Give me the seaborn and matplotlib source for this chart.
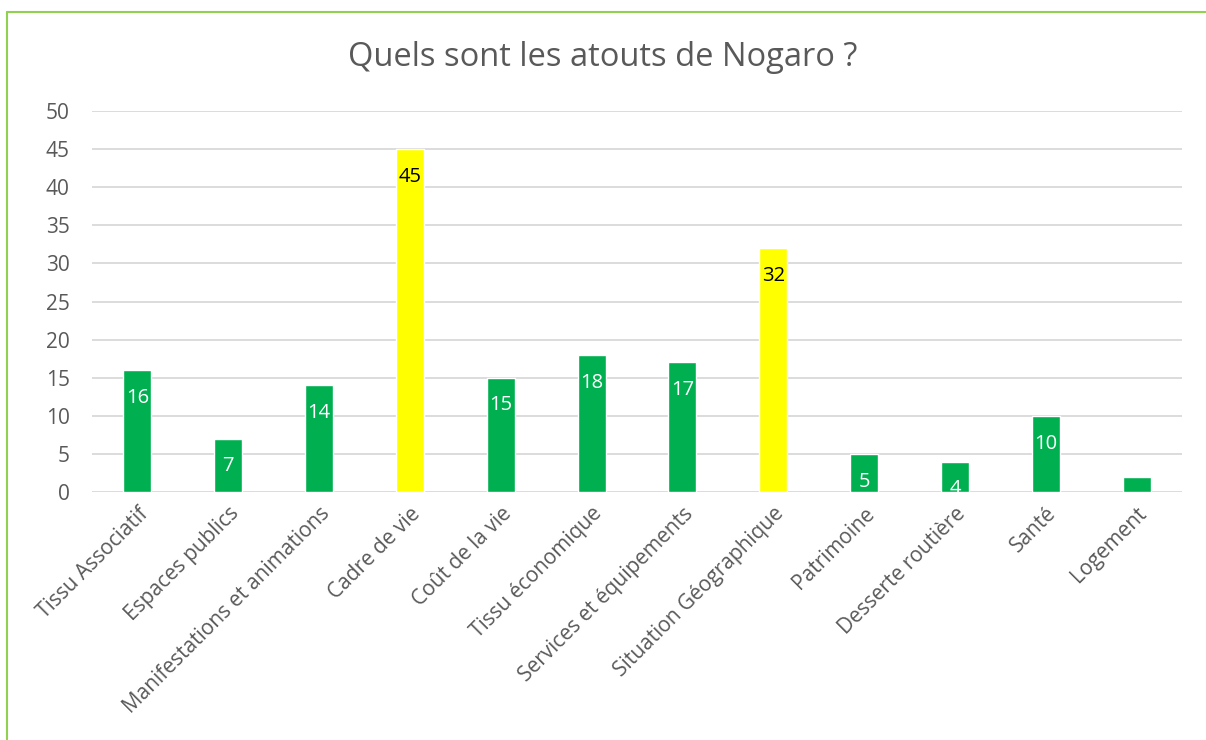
import matplotlib
matplotlib.use("Agg")
import matplotlib.pyplot as plt
from matplotlib.lines import Line2D
import seaborn as sns
import pandas as pd

categories = ["Tissu Associatif", "Espaces publics", "Manifestations et animations",
              "Cadre de vie", "Coût de la vie", "Tissu économique",
              "Services et équipements", "Situation Géographique", "Patrimoine",
              "Desserte routière", "Santé", "Logement"]
values = [16, 7, 14, 45, 15, 18, 17, 32, 5, 4, 10, 2]
highlighted = ["Cadre de vie", "Situation Géographique"]
shown_labels = [True] * 11 + [False]
y_ticks = [0, 5, 10, 15, 20, 25, 30, 35, 40, 45, 50]

GREEN = "#00B050"
YELLOW = "#FFFF00"
TEXT = "#595959"

sns.set_theme(style="white")
plt.rcParams["font.family"] = ["Open Sans", "DejaVu Sans"]

df = pd.DataFrame({"cat": categories, "val": values})
df["grp"] = ["hi" if c in highlighted else "lo" for c in categories]

fig = plt.figure(figsize=(12.06, 7.40), dpi=100)
ax = fig.add_axes([92 / 1206, 1 - 492 / 740, (1182 - 92) / 1206, (492 - 111) / 740])

sns.barplot(data=df, x="cat", y="val", hue="grp", palette={"hi": YELLOW, "lo": GREEN},
            dodge=False, width=0.31, legend=False, ax=ax, zorder=3, saturation=1)

ax.set_ylim(0, 50)
ax.set_xlim(-0.5, len(categories) - 0.5)
ax.set_yticks(y_ticks)
ax.yaxis.grid(True, color="#D9D9D9", linewidth=1.3, zorder=0)
ax.set_axisbelow(True)
for s in ax.spines.values():
    s.set_visible(False)
ax.set_xlabel("")
ax.set_ylabel("")
ax.tick_params(axis="y", length=0, labelsize=15, labelcolor=TEXT, pad=16)
ax.tick_params(axis="x", length=0, labelsize=15, labelcolor=TEXT, pad=8)
ax.set_xticks(range(len(categories)))
ax.set_xticklabels(categories, rotation=45, ha="right", rotation_mode="anchor")

for i, (c, v, show) in enumerate(zip(categories, values, shown_labels)):
    if not show:
        continue
    col = "black" if c in highlighted else "white"
    ax.annotate(str(v), xy=(i, v), xytext=(0, -20), textcoords="offset points",
                ha="center", va="center", fontsize=14.5, color=col, zorder=5)

fig.text(0.5, 1 - 58 / 740, "Quels sont les atouts de Nogaro ?", ha="center",
         va="center", fontsize=23.5, color=TEXT)

border = "#92D050"
fig.add_artist(Line2D([7 / 1206, 1.0], [1 - 12 / 740, 1 - 12 / 740],
                      transform=fig.transFigure, color=border, linewidth=1.5))
fig.add_artist(Line2D([7 / 1206, 7 / 1206], [0.0, 1 - 12 / 740],
                      transform=fig.transFigure, color=border, linewidth=1.5))

fig.savefig("out.png", dpi=100, facecolor="white")
